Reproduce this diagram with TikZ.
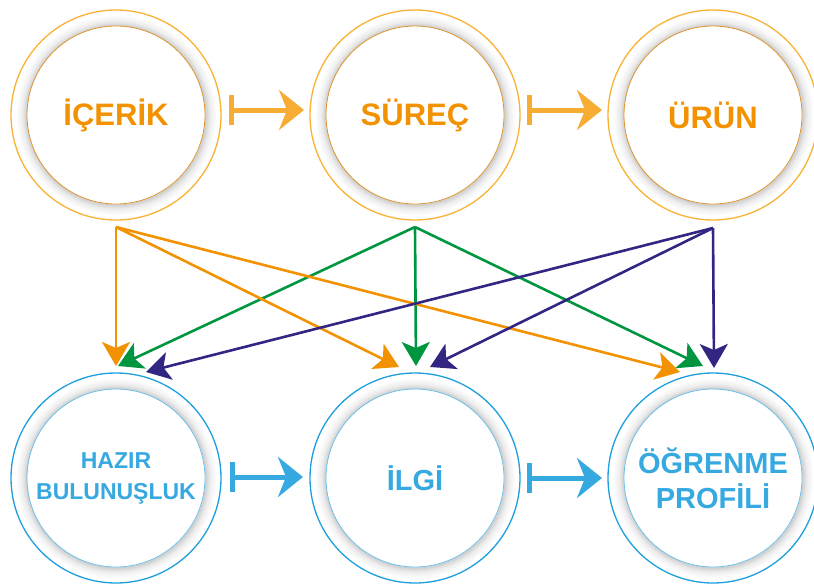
\documentclass[tikz,border=0pt]{standalone}
\usepackage{fontspec}
\setmainfont{Liberation Sans}
\usetikzlibrary{arrows.meta}
\definecolor{orT}{HTML}{F39200}
\definecolor{orC}{HTML}{F9B233}
\definecolor{orI}{HTML}{DD9530}
\definecolor{orH}{HTML}{F7AC33}
\definecolor{blT}{HTML}{36A9E1}
\definecolor{blC}{HTML}{1E9FDD}
\definecolor{blI}{HTML}{6CC0EA}
\definecolor{grA}{HTML}{009640}
\definecolor{nvA}{HTML}{312783}
\definecolor{orA}{HTML}{F39200}
\pgfdeclareradialshading{ringshade}{\pgfpoint{0bp}{0bp}}{color(0bp)=(white); color(21.0bp)=(white); color(21.2bp)=(black!20); color(22.4bp)=(black!7); color(23.9bp)=(white); color(50bp)=(white)}
\tikzset{
  ring/.style={circle, minimum size=210pt, inner sep=0pt, draw=#1, line width=1.3pt, shade, shading=ringshade},
  core/.style={circle, minimum size=178pt, inner sep=0pt, fill=white, draw=#1, line width=0.8pt, align=center},
  toptext/.style={text=orT, font=\fontsize{31}{35}\selectfont\bfseries},
  bottext/.style={text=blT, font=\fontsize{29}{35}\selectfont\bfseries},
  smalltext/.style={text=blT, font=\fontsize{23}{31}\selectfont\bfseries},
  harrow/.style={line width=5pt, draw=#1, {Bar[width=30pt]}-{Stealth[length=25pt,width=40pt,inset=8pt]}},
  conn/.style={line width=2.6pt, draw=#1, -{Stealth[length=24pt,width=28pt,inset=6pt]}}
}
\begin{document}
\begin{tikzpicture}[x=1pt,y=-1pt]
\useasboundingbox (0,0) rectangle (814,584);
% top rings
\node[ring=orC] (r1) at (116,115) {};
\node[ring=orC] (r2) at (415,115) {};
\node[ring=orC] (r3) at (713,115) {};
\node[core=orI, toptext] (icerik) at (r1.center) {İÇERİK};
\node[core=orI, toptext] (surec) at (r2.center) {SÜREÇ};
\node[core=orI, toptext] (urun) at (r3.center) {ÜRÜN};
% bottom rings
\node[ring=blC] (r4) at (116,478) {};
\node[ring=blC] (r5) at (415,478) {};
\node[ring=blC] (r6) at (713,478) {};
\node[core=blI, smalltext] (hazir) at (r4.center) {HAZIR\\BULUNUŞLUK};
\node[core=blI, bottext] (ilgi) at (r5.center) {İLGİ};
\node[core=blI, bottext] (ogrenme) at (r6.center) {ÖĞRENME\\PROFİLİ};
% horizontal arrows
\coordinate (h1s) at (229,110); \coordinate (h1e) at (304,110);
\coordinate (h2s) at (527,110); \coordinate (h2e) at (602,110);
\coordinate (h3s) at (230,477); \coordinate (h3e) at (303,477);
\coordinate (h4s) at (527,478); \coordinate (h4e) at (602,478);
\draw[harrow=orH] (h1s) -- (h1e);
\draw[harrow=orH] (h2s) -- (h2e);
\draw[harrow=blT] (h3s) -- (h3e);
\draw[harrow=blT] (h4s) -- (h4e);
% connector sources and targets
\coordinate (so) at (116,227);
\coordinate (sg) at (415,227);
\coordinate (sn) at (713,228);
\coordinate (to1) at (116,366);
\coordinate (to2) at (399,367);
\coordinate (to3) at (680,372);
\coordinate (tg1) at (118,366);
\coordinate (tg2) at (416,366);
\coordinate (tg3) at (703,366);
\coordinate (tn1) at (146,372);
\coordinate (tn2) at (430,367);
\coordinate (tn3) at (714,368);
\draw[conn=grA] (sg) -- (tg1);
\draw[conn=grA] (sg) -- (tg2);
\draw[conn=grA] (sg) -- (tg3);
\draw[conn=orA] (so) -- (to1);
\draw[conn=orA] (so) -- (to2);
\draw[conn=orA] (so) -- (to3);
\draw[conn=nvA] (sn) -- (tn1);
\draw[conn=nvA] (sn) -- (tn2);
\draw[conn=nvA] (sn) -- (tn3);
\end{tikzpicture}
\end{document}
